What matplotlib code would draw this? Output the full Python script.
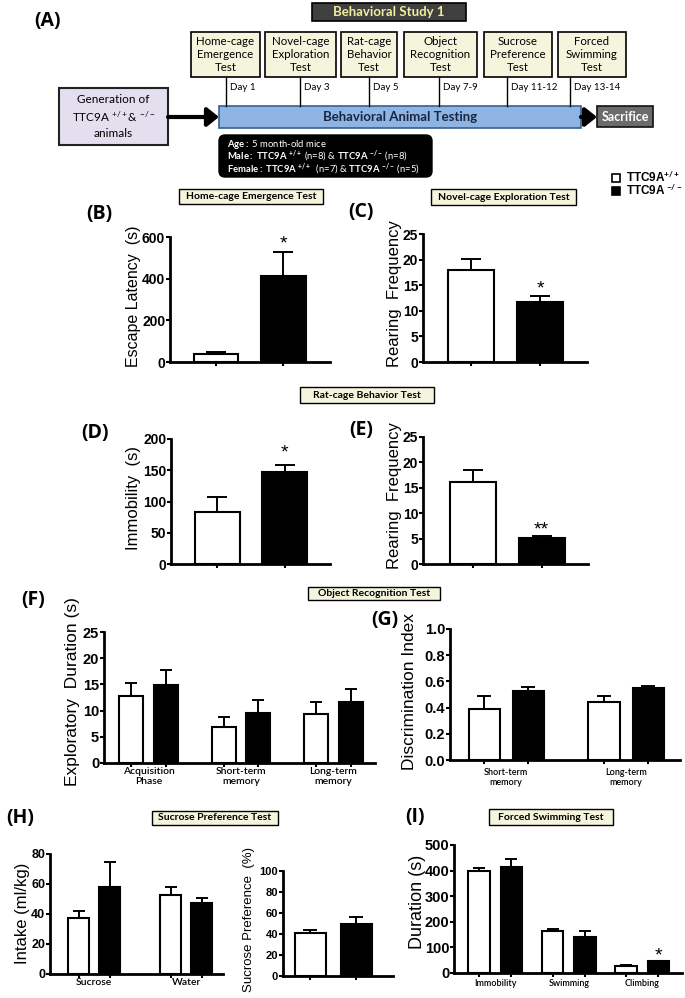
import numpy as np
import matplotlib
matplotlib.use('Agg')
import matplotlib.pyplot as plt
from matplotlib.patches import Rectangle, FancyBboxPatch
from matplotlib.font_manager import FontProperties

plt.rcParams['mathtext.fontset'] = 'custom'
plt.rcParams['mathtext.rm'] = 'Lato'
plt.rcParams['mathtext.bf'] = 'Lato:bold'
plt.rcParams['mathtext.it'] = 'Lato:italic'

W, H = 685, 998

# ---- data (mean, SEM) ----
home_wt, home_wt_sem = [40], [8]
home_ko, home_ko_sem = [411], [115]
home_sig = ['*']

novel_wt, novel_wt_sem = [18.0], [2.1]
novel_ko, novel_ko_sem = [11.8], [1.0]
novel_sig = ['*']

immob_wt, immob_wt_sem = [84], [23]
immob_ko, immob_ko_sem = [148], [10]
immob_sig = ['*']

rat_rear_wt, rat_rear_wt_sem = [16.1], [2.4]
rat_rear_ko, rat_rear_ko_sem = [5.1], [0.5]
rat_rear_sig = ['**']

obj_phases = ['Acquisition\nPhase', 'Short-term\nmemory', 'Long-term\nmemory']
obj_wt, obj_wt_sem = [12.85, 6.9, 9.35], [2.45, 1.9, 2.25]
obj_ko, obj_ko_sem = [14.9, 9.5, 11.7], [2.9, 2.5, 2.5]

disc_phases = ['Short-term\nmemory', 'Long-term\nmemory']
disc_wt, disc_wt_sem = [0.39, 0.443], [0.10, 0.046]
disc_ko, disc_ko_sem = [0.524, 0.547], [0.031, 0.018]

intake_cats = ['Sucrose', 'Water']
intake_wt, intake_wt_sem = [37.3, 52.7], [4.7, 5.3]
intake_ko, intake_ko_sem = [58.0, 47.3], [16.7, 3.4]

pref_wt, pref_wt_sem = [41.0], [2.8]
pref_ko, pref_ko_sem = [49.5], [6.5]

fst_cats = ['Immobility', 'Swimming', 'Climbing']
fst_wt, fst_wt_sem = [400, 164, 27], [12, 8, 4]
fst_ko, fst_ko_sem = [414, 141, 48], [31, 23, 0]
fst_sig = ['', '', '*']

tests = ['Home-cage\nEmergence\nTest', 'Novel-cage\nExploration\nTest', 'Rat-cage\nBehavior\nTest',
         'Object\nRecognition\nTest', 'Sucrose\nPreference\nTest', 'Forced\nSwimming\nTest']
days = ['Day 1', 'Day 3', 'Day 5', 'Day 7-9', 'Day 11-12', 'Day 13-14']

CREAM = '#f4f5dc'


def px_axes(fig, l, t, r, b):
    return fig.add_axes([l / W, 1 - b / H, (r - l) / W, (b - t) / H])


def bar_panel(ax, wt, wt_sem, ko, ko_sem, offset, width, xlim, ylim, yticks, ylabels,
              capsize, ytick_fs=10, sig=None, sig_off=7, cats=None, cat_fs=7, cat_pad=3):
    g = np.arange(len(wt))
    for x, m, s, c in [(g - offset, wt, wt_sem, 'white'), (g + offset, ko, ko_sem, 'black')]:
        ax.bar(x, m, width, color=c, edgecolor='black', linewidth=1.5, zorder=3)
        ax.errorbar(x, m, yerr=[np.zeros(len(m)), s], fmt='none', ecolor='black',
                    elinewidth=1.4, capsize=capsize, capthick=1.4, zorder=2)
    if sig:
        for i, t in enumerate(sig):
            if t:
                ax.annotate(t, xy=(g[i] + offset, ko[i] + ko_sem[i]), xytext=(0, sig_off),
                            textcoords='offset pixels', ha='center', va='center',
                            fontsize=14, family='Liberation Sans')
    for s in ['top', 'right']:
        ax.spines[s].set_visible(False)
    for s in ['left', 'bottom']:
        ax.spines[s].set_linewidth(2)
    ax.set_xlim(xlim)
    ax.set_ylim(ylim)
    ax.set_yticks(yticks)
    fp = FontProperties(family='Liberation Sans', weight='bold', size=ytick_fs)
    ax.set_yticklabels(ylabels, fontproperties=fp)
    ax.tick_params(axis='y', length=3, width=1.5, pad=0.5)
    ax.set_xticks(np.concatenate([g - offset, g + offset]), minor=True)
    ax.tick_params(axis='x', which='minor', length=3, width=1.5)
    if cats:
        ax.set_xticks(g)
        ax.set_xticklabels(cats, fontsize=cat_fs, family='Lato', fontweight='semibold',
                           linespacing=1.1)
        ax.tick_params(axis='x', which='major', length=0, pad=cat_pad)
    else:
        ax.set_xticks([])
    ax.patch.set_alpha(0)


fig = plt.figure(figsize=(W / 100, H / 100), dpi=100)

# overlay in pixel coords for the schematic, titles and labels
ov = fig.add_axes([0, 0, 1, 1])
ov.set_xlim(0, W)
ov.set_ylim(H, 0)
ov.axis('off')


def box(x0, y0, x1, y1, fc, ec='black', lw=1.0):
    ov.add_patch(Rectangle((x0, y0), x1 - x0, y1 - y0, facecolor=fc, edgecolor=ec, linewidth=lw))


def title_box(x0, y0, x1, y1, text, fs=7.5):
    box(x0, y0, x1, y1, CREAM, lw=1.0)
    ov.text((x0 + x1) / 2, (y0 + y1) / 2, text, ha='center', va='center', fontsize=fs,
            family='Lato', fontweight='bold')


def letter(x, y, t):
    ov.text(x, y, t, ha='center', va='center', fontsize=14, family='Open Sans', fontweight='bold')


def ylab(x, y, t, fs=12):
    ov.text(x, y, t, ha='center', va='center', rotation=90, fontsize=fs, family='Liberation Sans')


# ---- (A) schematic ----
letter(48, 21, '(A)')
box(312, 3, 466, 21, '#3f3f3f', lw=1.2)
ov.text(389, 12, 'Behavioral Study 1', ha='center', va='center', fontsize=9.5,
        family='Lato', fontweight='bold', color='#f3eda0')

test_x = [(191, 260), (265, 336), (341, 397), (404, 477), (484, 552), (558, 626)]
line_x = [226, 300, 369, 439, 507, 570]
for (x0, x1), lx, t, d in zip(test_x, line_x, tests, days):
    box(x0, 32, x1, 77, CREAM, lw=1.2)
    ov.text((x0 + x1) / 2, 54.5, t, ha='center', va='center', fontsize=8.3, family='Lato',
            linespacing=1.2)
    ov.plot([lx, lx], [77, 106], color='black', lw=1)
    ov.text(lx + 4, 87, d, ha='left', va='center', fontsize=7, family='Lato')

box(219, 106, 581, 128, '#8db4e2', ec='#3a5f8f', lw=1.2)
ov.text(400, 117, 'Behavioral Animal Testing', ha='center', va='center', fontsize=9.5,
        family='Lato', fontweight='bold', color='#1a2540')

box(59, 88, 168, 145, '#e4dfee', ec='#222222', lw=1.5)
ov.text(113.5, 116.5, 'Generation of\nTTC9A $^{+/+}$& $^{-/-}$\nanimals', ha='center', va='center',
        fontsize=8.5, family='Lato', linespacing=1.4)

arrow = dict(arrowstyle='-|>,head_length=0.5,head_width=0.4', lw=3, color='black',
             shrinkA=0, shrinkB=0, mutation_scale=14)
ov.annotate('', xy=(219, 117), xytext=(168, 117), arrowprops=arrow)
ov.annotate('', xy=(597, 117), xytext=(581, 117), arrowprops=arrow)

box(597, 106, 653, 127, '#6b6b6b', ec='#111111', lw=1.2)
ov.text(625, 116.5, 'Sacrifice', ha='center', va='center', fontsize=9, family='Lato',
        fontweight='bold', color='white')

ov.add_patch(FancyBboxPatch((219, 135), 213, 42, boxstyle='round,pad=0,rounding_size=6',
                            facecolor='black', edgecolor='black'))
info = [r'$\mathbf{Age:}$ 5 month-old mice',
        r'$\mathbf{Male:\ TTC9A}$ $^{\mathbf{+/+}}$ (n=8) & $\mathbf{TTC9A}$ $^{\mathbf{-/-}}$ (n=8)',
        r'$\mathbf{Female:\ TTC9A}$ $^{\mathbf{+/+}}$  (n=7) & $\mathbf{TTC9A}$ $^{\mathbf{-/-}}$ (n=5)']
for i, t in enumerate(info):
    ov.text(227, 144 + 12.5 * i, t, ha='left', va='center', fontsize=6.8, family='Lato', color='white')

# legend
ov.add_patch(Rectangle((612, 174), 8, 8, facecolor='white', edgecolor='black', lw=1.2))
ov.add_patch(Rectangle((612, 187), 8, 8, facecolor='black', edgecolor='black', lw=1.2))
ov.text(626, 178, r'TTC9A$^{\mathbf{+/+}}$', ha='left', va='center', fontsize=8.5,
        family='Liberation Sans', fontweight='bold')
ov.text(626, 191, r'TTC9A$^{\ \mathbf{-/-}}$', ha='left', va='center', fontsize=8.5,
        family='Liberation Sans', fontweight='bold')

# ---- titles and panel letters ----
title_box(179, 189, 323, 204, 'Home-cage Emergence Test')
title_box(431, 189, 576, 205, 'Novel-cage Exploration Test')
title_box(300, 387, 434, 403, 'Rat-cage Behavior Test')
title_box(308, 587, 440, 600, 'Object Recognition Test')
title_box(152, 811, 278, 825, 'Sucrose Preference Test')
title_box(489, 809, 613, 825, 'Forced Swimming Test')

letter(99, 214, '(B)')
letter(361, 212, '(C)')
letter(95, 433, '(D)')
letter(361, 430, '(E)')
letter(33, 600, '(F)')
letter(385, 620, '(G)')
letter(20, 818, '(H)')
letter(415, 817, '(I)')

ylab(134, 296, 'Escape Latency  (s)', 11.5)
ylab(395, 294, 'Rearing  Frequency', 12)
ylab(134, 498, 'Immobility  (s)', 12)
ylab(395, 496, 'Rearing  Frequency', 12)
ylab(73, 692, 'Exploratory  Duration (s)', 12.5)
ylab(410, 691, 'Discrimination Index', 12.5)
ylab(23, 913, 'Intake (ml/kg)', 12)
ylab(249, 920, 'Sucrose Preference  (%)', 9.5)
ylab(418, 902, 'Duration (s)', 13)


def int_labels(ticks):
    return [str(t) for t in ticks]


# ---- bar panels ----
ax = px_axes(fig, 170, 237, 330, 362)
yt = [0, 200, 400, 600]
bar_panel(ax, home_wt, home_wt_sem, home_ko, home_ko_sem, 0.5, 0.66, (-1.18, 1.19),
          (0, 600), yt, int_labels(yt), 7, sig=home_sig, sig_off=8)

ax = px_axes(fig, 423, 234, 587, 362)
yt = [0, 5, 10, 15, 20, 25]
bar_panel(ax, novel_wt, novel_wt_sem, novel_ko, novel_ko_sem, 0.5, 0.67, (-1.20, 1.18),
          (0, 25), yt, int_labels(yt), 7, sig=novel_sig, sig_off=7)

ax = px_axes(fig, 171, 439, 330, 564)
yt = [0, 50, 100, 150, 200]
bar_panel(ax, immob_wt, immob_wt_sem, immob_ko, immob_ko_sem, 0.5, 0.67, (-1.19, 1.17),
          (0, 200), yt, int_labels(yt), 7, sig=immob_sig, sig_off=12)

ax = px_axes(fig, 423, 437, 588, 564)
yt = [0, 5, 10, 15, 20, 25]
bar_panel(ax, rat_rear_wt, rat_rear_wt_sem, rat_rear_ko, rat_rear_ko_sem, 0.5, 0.67,
          (-1.22, 1.17), (0, 25), yt, int_labels(yt), 7, sig=rat_rear_sig, sig_off=6)

ax = px_axes(fig, 104, 632, 375, 763)
yt = [0, 5, 10, 15, 20, 25]
bar_panel(ax, obj_wt, obj_wt_sem, obj_ko, obj_ko_sem, 0.187, 0.26, (-0.48, 2.45),
          (0, 25), yt, int_labels(yt), 4, ytick_fs=10.5, cats=obj_phases, cat_fs=7.5)

ax = px_axes(fig, 450, 629, 680, 760)
yt = [0.0, 0.2, 0.4, 0.6, 0.8, 1.0]
bar_panel(ax, disc_wt, disc_wt_sem, disc_ko, disc_ko_sem, 0.185, 0.26, (-0.47, 1.45),
          (0, 1.0), yt, ['%.1f' % t for t in yt], 5, ytick_fs=10.5, cats=disc_phases,
          cat_fs=6.5, cat_pad=6)

ax = px_axes(fig, 50, 854, 223, 974)
yt = [0, 20, 40, 60, 80]
bar_panel(ax, intake_wt, intake_wt_sem, intake_ko, intake_ko_sem, 0.17, 0.23, (-0.48, 1.40),
          (0, 80), yt, int_labels(yt), 4, ytick_fs=9, cats=intake_cats, cat_fs=7.5)

ax = px_axes(fig, 283, 871, 393, 976)
yt = [0, 20, 40, 60, 80, 100]
bar_panel(ax, pref_wt, pref_wt_sem, pref_ko, pref_ko_sem, 0.5, 0.68, (-1.10, 1.31),
          (0, 100), yt, int_labels(yt), 5, ytick_fs=8)

ax = px_axes(fig, 454, 845, 682, 973)
yt = [0, 100, 200, 300, 400, 500]
bar_panel(ax, fst_wt, fst_wt_sem, fst_ko, fst_ko_sem, 0.22, 0.29, (-0.56, 2.54),
          (0, 500), yt, int_labels(yt), 4, ytick_fs=10.5, sig=fst_sig, sig_off=5,
          cats=fst_cats, cat_fs=6.5, cat_pad=4)

fig.savefig('out.png', dpi=100)
